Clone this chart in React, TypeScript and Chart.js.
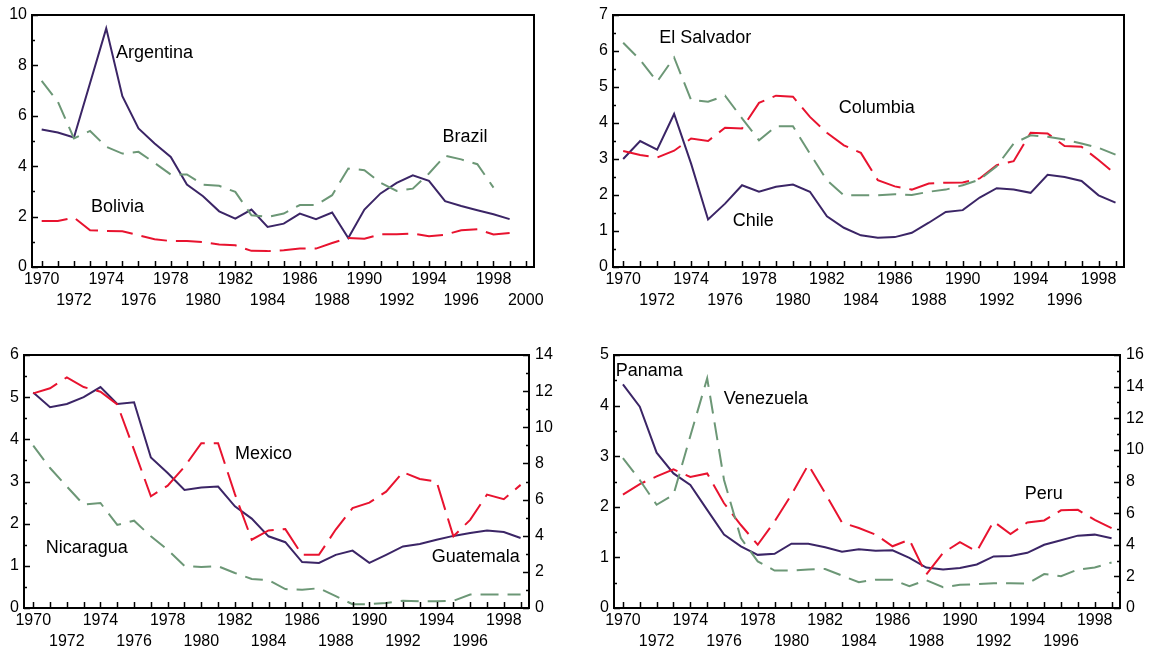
import { useEffect, useRef } from "react";
import { Chart, registerables } from "chart.js";

Chart.register(...registerables);

// ---------- data ----------
const years = [
  1970, 1971, 1972, 1973, 1974, 1975, 1976, 1977, 1978, 1979,
  1980, 1981, 1982, 1983, 1984, 1985, 1986, 1987, 1988, 1989,
  1990, 1991, 1992, 1993, 1994, 1995, 1996, 1997, 1998, 1999,
];

const argentina = [5.46, 5.34, 5.14, 7.3, 9.47, 6.78, 5.5, 4.9, 4.37, 3.27, 2.81, 2.21, 1.92, 2.28, 1.59, 1.72, 2.12, 1.9, 2.16, 1.15, 2.28, 2.92, 3.34, 3.64, 3.42, 2.61, 2.42, 2.25, 2.09, 1.9];
const brazil = [7.39, 6.56, 5.1, 5.4, 4.77, 4.5, 4.57, 4.13, 3.67, 3.67, 3.27, 3.22, 2.98, 2.05, 1.99, 2.12, 2.46, 2.46, 2.85, 3.91, 3.84, 3.34, 3.02, 3.11, 3.71, 4.42, 4.27, 4.08, 3.15, null];
const bolivia = [1.83, 1.83, 1.96, 1.46, 1.43, 1.42, 1.26, 1.1, 1.03, 1.03, 0.99, 0.89, 0.86, 0.64, 0.63, 0.66, 0.73, 0.73, 0.95, 1.15, 1.12, 1.3, 1.3, 1.33, 1.22, 1.28, 1.46, 1.5, 1.29, 1.35];

const chile = [3.0, 3.5, 3.26, 4.25, 2.87, 1.32, 1.76, 2.27, 2.09, 2.23, 2.29, 2.09, 1.41, 1.09, 0.88, 0.81, 0.83, 0.95, 1.23, 1.53, 1.58, 1.93, 2.19, 2.15, 2.06, 2.56, 2.5, 2.39, 1.99, 1.79];
const columbia = [3.22, 3.11, 3.04, 3.23, 3.57, 3.5, 3.87, 3.85, 4.56, 4.76, 4.73, 4.17, 3.73, 3.38, 3.17, 2.41, 2.24, 2.15, 2.32, 2.34, 2.35, 2.46, 2.83, 2.94, 3.73, 3.71, 3.36, 3.34, 2.97, 2.58];
const elSalvador = [6.23, 5.75, 5.15, 5.82, 4.64, 4.59, 4.76, 4.13, 3.52, 3.91, 3.91, 3.15, 2.41, 1.99, 1.99, 1.99, 2.02, 2.0, 2.09, 2.15, 2.27, 2.43, 2.8, 3.43, 3.66, 3.62, 3.54, 3.43, 3.31, 3.12];

const guatemala = [5.11, 4.76, 4.84, 5.0, 5.24, 4.84, 4.88, 3.57, 3.2, 2.8, 2.86, 2.88, 2.41, 2.12, 1.7, 1.56, 1.09, 1.07, 1.26, 1.36, 1.07, 1.26, 1.46, 1.52, 1.62, 1.71, 1.78, 1.84, 1.8, 1.66];
const mexico = [5.09, 5.21, 5.47, 5.24, 5.13, 4.83, 3.75, 2.65, 2.9, 3.35, 3.91, 3.91, 2.7, 1.62, 1.84, 1.87, 1.26, 1.26, 1.86, 2.37, 2.5, 2.76, 3.22, 3.06, 3.0, 1.7, 2.09, 2.69, 2.58, 2.92];
const nicaragua = [3.85, 3.32, 2.88, 2.45, 2.49, 1.97, 2.07, 1.7, 1.38, 1.0, 0.97, 0.99, 0.83, 0.69, 0.66, 0.45, 0.43, 0.47, 0.28, 0.09, 0.09, 0.12, 0.17, 0.16, 0.16, 0.17, 0.32, 0.32, 0.32, 0.32];

const panama = [4.42, 3.98, 3.07, 2.66, 2.43, 1.94, 1.45, 1.22, 1.05, 1.07, 1.27, 1.27, 1.2, 1.11, 1.16, 1.13, 1.14, 0.99, 0.8, 0.76, 0.79, 0.86, 1.02, 1.03, 1.09, 1.25, 1.34, 1.43, 1.45, 1.38];
const peru = [2.24, 2.45, 2.6, 2.74, 2.59, 2.66, 2.07, 1.64, 1.25, 1.71, 2.24, 2.83, 2.27, 1.69, 1.58, 1.45, 1.22, 1.35, 0.66, 1.09, 1.3, 1.12, 1.71, 1.46, 1.69, 1.73, 1.93, 1.94, 1.74, 1.58];
const venezuela = [2.96, 2.53, 2.04, 2.24, 3.4, 4.54, 2.53, 1.38, 0.92, 0.74, 0.74, 0.76, 0.77, 0.64, 0.51, 0.56, 0.56, 0.43, 0.55, 0.41, 0.46, 0.47, 0.49, 0.49, 0.48, 0.67, 0.63, 0.76, 0.8, 0.9];

const tickYearsTo2000 = [...years, 2000];
const tickYearsTo1999 = years;

// ---------- styles ----------
const FONT = "'Liberation Sans', Arial, Helvetica, sans-serif";
const SOLID = "#3b2566";
const RED = "#e8132f";
const GREEN = "#6c9776";
const RED_DASH = [26, 9];
const GREEN_DASH = [18, 9];

type Series = { values: (number | null)[]; kind: "solid" | "red" | "green" };
type Note = { text: string; x: number; y: number };
type PanelCfg = {
  left: number; top: number; w: number; h: number;
  padTop: number; padRight: number; yW: number; y2W?: number; xH: number;
  xMin: number; xMax: number; tickYears: number[];
  yMax: number; yStep: number; y2Max?: number; y2Step?: number;
  series: Series[]; notes: Note[];
};

const framePlugin = {
  id: "frame",
  afterDraw(chart: any, _args: any, opts: any) {
    const { ctx, chartArea: a, scales } = chart;
    ctx.save();
    ctx.strokeStyle = "#000";
    ctx.lineWidth = 1.5;
    ctx.beginPath();
    const xs = scales.x;
    xs.ticks.forEach((t: any) => {
      const px = Math.round(xs.getPixelForValue(t.value)) + 0.5;
      ctx.moveTo(px, a.bottom);
      ctx.lineTo(px, a.bottom - 6);
    });
    const drawY = (sc: any, side: "left" | "right") => {
      const edge = side === "left" ? a.left : a.right;
      const dir = side === "left" ? 1 : -1;
      const tk = sc.ticks;
      tk.forEach((t: any, i: number) => {
        const py = Math.round(sc.getPixelForValue(t.value)) + 0.5;
        ctx.moveTo(edge, py);
        ctx.lineTo(edge + dir * 6, py);
        if (i < tk.length - 1) {
          const mid = (t.value + tk[i + 1].value) / 2;
          const pm = Math.round(sc.getPixelForValue(mid)) + 0.5;
          ctx.moveTo(edge, pm);
          ctx.lineTo(edge + dir * 3, pm);
        }
      });
    };
    drawY(scales.y, "left");
    if (scales.y2) drawY(scales.y2, "right");
    ctx.stroke();
    ctx.lineWidth = 2;
    ctx.strokeRect(a.left, a.top, a.right - a.left, a.bottom - a.top);
    ctx.fillStyle = "#000";
    ctx.font = `18px ${FONT}`;
    ctx.textAlign = "left";
    ctx.textBaseline = "middle";
    (opts.notes || []).forEach((n: Note) => {
      ctx.fillText(n.text, xs.getPixelForValue(n.x), scales.y.getPixelForValue(n.y));
    });
    ctx.restore();
  },
};

const tickFont = { family: FONT, size: 16, lineHeight: 1.3 };

function buildConfig(c: PanelCfg): any {
  const datasets = c.series.map((s) => ({
    data: years.map((x, i) => ({ x, y: s.values[i] })),
    borderColor: s.kind === "solid" ? SOLID : s.kind === "red" ? RED : GREEN,
    borderWidth: 2,
    borderDash: s.kind === "solid" ? [] : s.kind === "red" ? RED_DASH : GREEN_DASH,
    pointRadius: 0,
    fill: false,
    tension: 0,
    spanGaps: false,
    yAxisID: "y",
  }));
  const scales: any = {
    x: {
      type: "linear",
      min: c.xMin,
      max: c.xMax,
      afterBuildTicks: (s: any) => {
        s.ticks = c.tickYears.map((v) => ({ value: v }));
      },
      afterFit: (s: any) => {
        s.height = c.xH;
        s.paddingLeft = 0;
        s.paddingRight = 0;
      },
      grid: { display: false, drawTicks: false },
      border: { display: false },
      ticks: {
        autoSkip: false,
        maxRotation: 0,
        minRotation: 0,
        padding: 2,
        color: "#000",
        font: tickFont,
        callback: (value: number) => {
          const d = Math.round(value) - 1970;
          if (d % 4 === 0) return String(Math.round(value));
          if (d % 4 === 2) return ["", String(Math.round(value))];
          return "";
        },
      },
    },
    y: {
      type: "linear",
      position: "left",
      min: 0,
      max: c.yMax,
      afterFit: (s: any) => {
        s.width = c.yW;
        s.paddingTop = 0;
        s.paddingBottom = 0;
      },
      grid: { display: false, drawTicks: false },
      border: { display: false },
      ticks: { stepSize: c.yStep, padding: 5, color: "#000", font: tickFont },
    },
  };
  if (c.y2Max) {
    scales.y2 = {
      type: "linear",
      position: "right",
      display: true,
      min: 0,
      max: c.y2Max,
      afterFit: (s: any) => {
        s.width = c.y2W;
        s.paddingTop = 0;
        s.paddingBottom = 0;
      },
      grid: { display: false, drawTicks: false },
      border: { display: false },
      ticks: { stepSize: c.y2Step, padding: 6, color: "#000", font: tickFont },
    };
  }
  return {
    type: "line",
    data: { datasets },
    options: {
      responsive: false,
      animation: false,
      devicePixelRatio: 1,
      events: [],
      layout: { padding: { top: c.padTop, right: c.padRight, left: 0, bottom: 0 } },
      plugins: {
        legend: { display: false },
        tooltip: { enabled: false },
        frame: { notes: c.notes },
      },
      scales,
    },
    plugins: [framePlugin],
  };
}

const panels: PanelCfg[] = [
  {
    left: 0, top: 0, w: 575, h: 326,
    padTop: 15, padRight: 41, yW: 32, xH: 59,
    xMin: 1969.4, xMax: 2000.51, tickYears: tickYearsTo2000,
    yMax: 10, yStep: 2,
    series: [
      { values: brazil, kind: "green" },
      { values: bolivia, kind: "red" },
      { values: argentina, kind: "solid" },
    ],
    notes: [
      { text: "Argentina", x: 1974.6, y: 8.49 },
      { text: "Bolivia", x: 1973.06, y: 2.37 },
      { text: "Brazil", x: 1994.84, y: 5.15 },
    ],
  },
  {
    left: 575, top: 0, w: 575, h: 326,
    padTop: 15, padRight: 26, yW: 38, xH: 59,
    xMin: 1969.4, xMax: 1999.5, tickYears: tickYearsTo1999,
    yMax: 7, yStep: 1,
    series: [
      { values: elSalvador, kind: "green" },
      { values: columbia, kind: "red" },
      { values: chile, kind: "solid" },
    ],
    notes: [
      { text: "El Salvador", x: 1972.12, y: 6.36 },
      { text: "Columbia", x: 1982.7, y: 4.41 },
      { text: "Chile", x: 1976.45, y: 1.27 },
    ],
  },
  {
    left: 0, top: 326, w: 575, h: 327,
    padTop: 29, padRight: 0, yW: 24, y2W: 46, xH: 45,
    xMin: 1969.45, xMax: 1999.5, tickYears: tickYearsTo1999,
    yMax: 6, yStep: 1, y2Max: 14, y2Step: 2,
    series: [
      { values: nicaragua, kind: "green" },
      { values: mexico, kind: "red" },
      { values: guatemala, kind: "solid" },
    ],
    notes: [
      { text: "Mexico", x: 1982.0, y: 3.66 },
      { text: "Nicaragua", x: 1970.74, y: 1.43 },
      { text: "Guatemala", x: 1993.71, y: 1.22 },
    ],
  },
  {
    left: 575, top: 326, w: 575, h: 327,
    padTop: 29, padRight: 0, yW: 39, y2W: 30, xH: 45,
    xMin: 1969.47, xMax: 1999.5, tickYears: tickYearsTo1999,
    yMax: 5, yStep: 1, y2Max: 16, y2Step: 2,
    series: [
      { values: venezuela, kind: "green" },
      { values: peru, kind: "red" },
      { values: panama, kind: "solid" },
    ],
    notes: [
      { text: "Panama", x: 1969.57, y: 4.68 },
      { text: "Venezuela", x: 1975.99, y: 4.13 },
      { text: "Peru", x: 1993.84, y: 2.26 },
    ],
  },
];

function Panel({ cfg }: { cfg: PanelCfg }) {
  const ref = useRef<HTMLCanvasElement>(null);
  useEffect(() => {
    if (!ref.current) return;
    const chart = new Chart(ref.current, buildConfig(cfg));
    return () => chart.destroy();
  }, [cfg]);
  return (
    <canvas
      ref={ref}
      width={cfg.w}
      height={cfg.h}
      style={{ position: "absolute", left: cfg.left, top: cfg.top, width: cfg.w, height: cfg.h }}
    />
  );
}

export default function App() {
  return (
    <div style={{ position: "absolute", left: 0, top: 0, width: 1150, height: 653, background: "#fff", overflow: "hidden" }}>
      {panels.map((p, i) => (
        <Panel key={i} cfg={p} />
      ))}
    </div>
  );
}
